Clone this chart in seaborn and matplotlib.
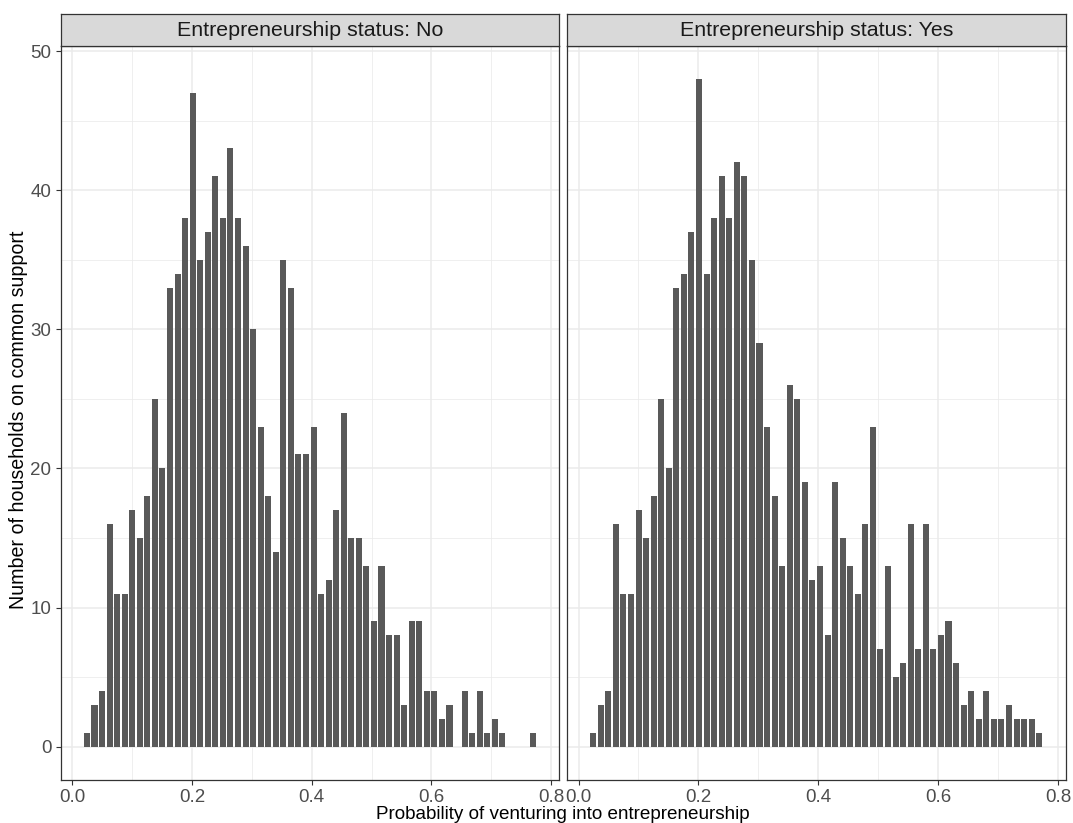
import numpy as np
import pandas as pd
import seaborn as sns
from matplotlib import pyplot as plt
from matplotlib.ticker import MultipleLocator

# histogram counts (60 shared bins)
bin_lo = 0.0181
bin_hi = 0.7752
n_bins = 60

counts_no = [1, 3, 4, 16, 11, 11, 17, 15, 18, 25,
             20, 33, 34, 38, 47, 35, 37, 41, 38, 43,
             38, 36, 30, 23, 18, 14, 35, 33, 21, 21,
             23, 11, 12, 17, 24, 15, 15, 13, 9, 13,
             8, 8, 3, 9, 9, 4, 4, 2, 3, 0,
             4, 1, 4, 1, 2, 1, 0, 0, 0, 1]
counts_yes = [1, 3, 4, 16, 11, 11, 17, 15, 18, 25,
              20, 33, 34, 37, 48, 34, 38, 41, 38, 42,
              41, 35, 29, 23, 18, 13, 26, 25, 19, 12,
              13, 8, 19, 15, 13, 11, 16, 23, 7, 13,
              5, 6, 16, 7, 16, 7, 8, 9, 6, 3,
              4, 2, 4, 2, 2, 3, 2, 2, 2, 1]
facet_labels = ["Entrepreneurship status: No", "Entrepreneurship status: Yes"]
x_title = "Probability of venturing into entrepreneurship"
y_title = "Number of households on common support"

bin_w = (bin_hi - bin_lo) / n_bins
centers = bin_lo + bin_w * (np.arange(n_bins) + 0.5)
df = pd.concat([
    pd.DataFrame({"p": centers, "n": counts_no, "status": facet_labels[0]}),
    pd.DataFrame({"p": centers, "n": counts_yes, "status": facet_labels[1]}),
])

sns.set_theme(style="white")
plt.rcParams['font.family'] = ['Liberation Sans', 'DejaVu Sans']

W, H = 1073, 823
fig = plt.figure(figsize=(W / 100, H / 100), dpi=100)

panels = [(60.5, 559.0), (566.7, 1065.7)]
top, bottom, strip_top = 45.5, 780.0, 14.3
span = (bin_hi - bin_lo) * 0.05

for i, (x0, x1) in enumerate(panels):
    ax = fig.add_axes([x0 / W, 1 - bottom / H, (x1 - x0) / W, (bottom - top) / H])
    sub = df[df["status"] == facet_labels[i]]
    sns.histplot(data=sub, x="p", weights="n", binwidth=bin_w,
                 binrange=(bin_lo, bin_hi), ax=ax,
                 color="#595959", alpha=1, shrink=0.8, linewidth=0)
    ax.set_xlim(bin_lo - span, bin_hi + span)
    ax.set_ylim(-2.4, 50.4)
    ax.xaxis.set_major_locator(MultipleLocator(0.2))
    ax.xaxis.set_minor_locator(MultipleLocator(0.1))
    ax.yaxis.set_major_locator(MultipleLocator(10))
    ax.yaxis.set_minor_locator(MultipleLocator(5))
    ax.xaxis.set_major_formatter(lambda v, pos: f"{v:.1f}")
    ax.set_axisbelow(True)
    ax.grid(True, which="major", color="#EBEBEB", lw=1.1)
    ax.grid(True, which="minor", color="#EBEBEB", lw=0.55)
    ax.tick_params(axis="both", which="major", length=3.5, width=0.8, color="#333333",
                   labelsize=13.5, labelcolor="#4D4D4D", pad=3,
                   bottom=True, left=(i == 0), labelleft=(i == 0))
    ax.tick_params(which="minor", length=0)
    ax.set_xlabel("")
    ax.set_ylabel("")
    for s in ax.spines.values():
        s.set_color("#333333")
        s.set_linewidth(0.9)

    strip = fig.add_axes([x0 / W, 1 - top / H, (x1 - x0) / W, (top - strip_top) / H])
    strip.set_facecolor("#D9D9D9")
    strip.set_xticks([])
    strip.set_yticks([])
    for s in strip.spines.values():
        s.set_color("#333333")
        s.set_linewidth(0.9)
    strip.text(0.5, 0.47, facet_labels[i], ha="center", va="center",
               fontsize=15.4, color="#1A1A1A", transform=strip.transAxes)

fig.text(563 / W, 1 - 819 / H, x_title, ha="center", va="baseline",
         fontsize=13.6, color="black")
fig.text(18.5 / W, 1 - 420 / H, y_title, ha="center", va="center",
         rotation=90, fontsize=14.1, color="black")

fig.savefig("out.png", dpi=100)
